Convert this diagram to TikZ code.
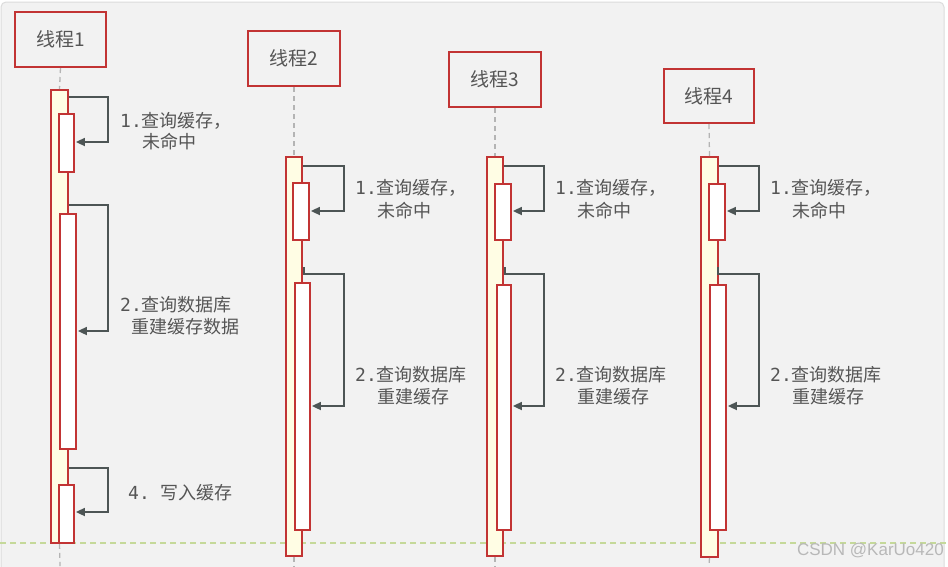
\documentclass[tikz,border=0pt]{standalone}
\usepackage{fontspec}
\setmainfont{Noto Sans CJK SC}
\newfontfamily\monof{DejaVu Sans Mono}
\newfontfamily\wmf{Liberation Sans}
\usetikzlibrary{arrows.meta}
\definecolor{bg}{HTML}{F2F2F2}
\definecolor{frame}{HTML}{DCDCDC}
\definecolor{bred}{HTML}{C23434}
\definecolor{actY}{HTML}{FFFDE4}
\definecolor{txt}{HTML}{555555}
\definecolor{arr}{HTML}{4D5555}
\definecolor{life}{HTML}{B4B4B4}
\definecolor{grn}{HTML}{C5D99A}
\definecolor{wm}{HTML}{B8B8B8}
\begin{document}
\begin{tikzpicture}[x=1pt,y=-1pt,
  headbox/.style={draw=bred, line width=2pt, fill=bg, inner sep=0pt,
    minimum width=91pt, minimum height=55pt, text=txt,
    font=\fontsize{19}{22}\selectfont},
  outerbar/.style={draw=bred, line width=1.8pt, fill=actY, inner sep=0pt, anchor=north},
  innerbar/.style={draw=bred, line width=1.8pt, fill=white, inner sep=0pt, anchor=north},
  lifeline/.style={draw=life, line width=1.3pt, dash pattern=on 5pt off 4pt},
  msg/.style={draw=arr, line width=1.7pt, -{Triangle[length=9pt,width=8pt]}},
  lbl/.style={text=txt, inner sep=0pt, anchor=west, font=\fontsize{18}{22}\selectfont}
]
\useasboundingbox (0,0) rectangle (948,566);
\fill[white] (0,0) rectangle (948,566);
\draw[fill=bg, draw=frame, line width=1pt, rounded corners=5pt] (1,2) rectangle (944,580);

% green separator
\draw[grn, line width=1.3pt, dash pattern=on 6pt off 4pt] (0,543) -- (948,543);

% headers
\node[headbox] (h1) at (60.5,39.5) {线程1};
\node[headbox, minimum width=92pt] (h2) at (294,58.5) {线程2};
\node[headbox, minimum width=92pt] (h3) at (495,79.5) {线程3};
\node[headbox, minimum width=90pt, minimum height=54pt] (h4) at (709,96) {线程4};

% activation bars
\node[outerbar, minimum width=17pt, minimum height=453pt] (o1) at (59.5,89) {};
\node[outerbar, minimum width=16pt, minimum height=399pt] (o2) at (294,156) {};
\node[outerbar, minimum width=16pt, minimum height=399pt] (o3) at (495,156) {};
\node[outerbar, minimum width=17pt, minimum height=400pt] (o4) at (709.5,156) {};

% lifelines
\draw[lifeline] (h1.south) -- (o1.north);
\draw[lifeline] (h2.south) -- (o2.north);
\draw[lifeline] (h3.south) -- (o3.north);
\draw[lifeline] (h4.south) -- (o4.north);
\coordinate (e1) at (60,566);
\coordinate (e2) at (294,566);
\coordinate (e3) at (495,566);
\coordinate (e4) at (709,566);
\draw[lifeline] (o1.south) -- (e1);
\draw[lifeline] (o2.south) -- (e2);
\draw[lifeline] (o3.south) -- (e3);
\draw[lifeline] (o4.south) -- (e4);

% inner bars
\node[innerbar, minimum width=15pt, minimum height=58pt] (i11) at (66.5,113) {};
\node[innerbar, minimum width=16pt, minimum height=235pt] (i12) at (68,213) {};
\node[innerbar, minimum width=15pt, minimum height=58pt] (i13) at (66.5,484) {};
\node[innerbar, minimum width=16pt, minimum height=57pt] (i21) at (301,182) {};
\node[innerbar, minimum width=15pt, minimum height=247pt] (i22) at (302.5,282) {};
\node[innerbar, minimum width=16pt, minimum height=56pt] (i31) at (503,183) {};
\node[innerbar, minimum width=14pt, minimum height=245pt] (i32) at (504,284) {};
\node[innerbar, minimum width=16pt, minimum height=56pt] (i41) at (717,183) {};
\node[innerbar, minimum width=16pt, minimum height=245pt] (i42) at (718,284) {};

% self messages thread 1
\draw[msg] (o1.east |- 0,97) -- (108,97) -- (108,142) -- ([xshift=1pt]i11.east |- 0,142);
\draw[msg] (o1.east |- 0,205) -- (108,205) -- (108,331) -- ([xshift=1pt]i12.east |- 0,331);
\draw[msg] (o1.east |- 0,468) -- (108,468) -- (108,512) -- ([xshift=1pt]i13.east |- 0,512);
% thread 2
\draw[msg] (o2.east |- 0,166) -- (344,166) -- (344,211) -- ([xshift=1pt]i21.east |- 0,211);
\draw[msg] ([xshift=1pt]o2.east |- 0,267) -- ([xshift=1pt]o2.east |- 0,274) -- (344,274) -- (344,406) -- ([xshift=1pt]i22.east |- 0,406);
% thread 3
\draw[msg] (o3.east |- 0,166) -- (544,166) -- (544,211) -- ([xshift=1pt]i31.east |- 0,211);
\draw[msg] ([xshift=1pt]o3.east |- 0,267) -- ([xshift=1pt]o3.east |- 0,274) -- (544,274) -- (544,406) -- ([xshift=1pt]i32.east |- 0,406);
% thread 4
\draw[msg] (o4.east |- 0,166) -- (759,166) -- (759,211) -- ([xshift=1pt]i41.east |- 0,211);
\draw[msg] ([xshift=-1pt]o4.east |- 0,267) -- ([xshift=-1pt]o4.east |- 0,274) -- (759,274) -- (759,406) -- ([xshift=1pt]i42.east |- 0,406);

% labels thread 1
\node[lbl] (l11a) at (120,121) {{\monof 1.}查询缓存，};
\node[lbl] (l11b) at (142,142) {未命中};
\node[lbl] (l12a) at (120,305) {{\monof 2.}查询数据库};
\node[lbl] (l12b) at (131,327) {重建缓存数据};
\node[lbl] (l13) at (128,493) {{\monof 4.\ }写入缓存};
% thread 2
\node[lbl] (l21a) at (355,188) {{\monof 1.}查询缓存，};
\node[lbl] (l21b) at (377,211) {未命中};
\node[lbl] (l22a) at (355,375) {{\monof 2.}查询数据库};
\node[lbl] (l22b) at (377,397) {重建缓存};
% thread 3
\node[lbl] (l31a) at (555,188) {{\monof 1.}查询缓存，};
\node[lbl] (l31b) at (577,211) {未命中};
\node[lbl] (l32a) at (555,375) {{\monof 2.}查询数据库};
\node[lbl] (l32b) at (577,397) {重建缓存};
% thread 4
\node[lbl] (l41a) at (770,188) {{\monof 1.}查询缓存，};
\node[lbl] (l41b) at (792,211) {未命中};
\node[lbl] (l42a) at (770,375) {{\monof 2.}查询数据库};
\node[lbl] (l42b) at (792,397) {重建缓存};

% watermark
\node[text=wm, inner sep=0pt, anchor=east, font=\wmf\fontsize{17}{20}\selectfont] (wmark) at (944,551) {CSDN @KarUo420};
\end{tikzpicture}
\end{document}
